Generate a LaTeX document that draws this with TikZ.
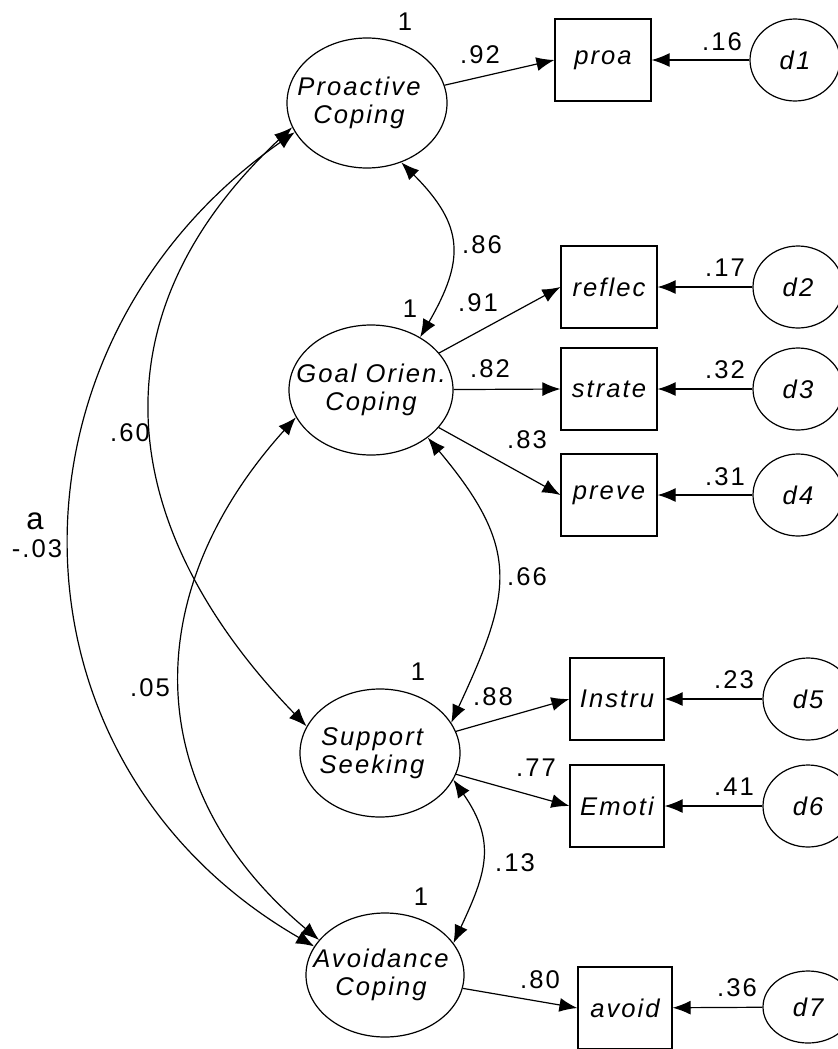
\documentclass[tikz,border=0pt]{standalone}
\usepackage{fontspec}
\setmainfont{Liberation Sans}[LetterSpace=8]
\usetikzlibrary{arrows.meta,shapes.geometric}
\newcommand\diagfont{\fontsize{12.8pt}{14pt}\selectfont}
\tikzset{
        latent/.style = {draw, ellipse, inner sep=0pt},
        indicator/.style = {draw, rectangle, inner sep=0pt,
            minimum height=41pt, font=\diagfont\itshape},
        error/.style = {draw, ellipse, inner sep=0pt,
            minimum width=45pt, minimum height=41pt, font=\diagfont\itshape},
        load/.style = {draw, -{Latex[length=9pt,width=7pt]}},
        cov/.style = {draw, {Latex[length=9pt,width=7pt]}-{Latex[length=9pt,width=7pt]}},
        coef/.style = {inner sep=0pt, font=\diagfont},
        lname/.style = {align=center, font=\diagfont\itshape},
    }

\begin{document}
\begin{tikzpicture}[x=0.5pt, y=0.5pt, line width=0.6pt]
\clip (0,0) rectangle (838,-1049);

\node[latent, minimum width=80pt, minimum height=65pt,
    label={[lname, xshift=-4pt]center:Proactive\\Coping}] (pro) at (367,-103) {};
\node[latent, minimum width=82pt, minimum height=65pt,
    label={[lname]center:Goal Orien.\\Coping}] (goal) at (371,-390) {};
\node[latent, minimum width=80pt, minimum height=64pt,
    label={[lname, xshift=-4pt]center:Support\\Seeking}] (sup) at (380,-753) {};
\node[latent, minimum width=79pt, minimum height=62pt,
    label={[lname, xshift=-2pt]center:Avoidance\\Coping}] (avo) at (385,-975) {};

\node[indicator, minimum width=48pt] (proa) at (603,-60) {proa};
\node[indicator, minimum width=48pt] (reflec) at (609,-287) {reflec};
\node[indicator, minimum width=48pt] (strate) at (609,-389) {strate};
\node[indicator, minimum width=48pt] (preve) at (609,-495) {preve};
\node[indicator, minimum width=47pt] (instru) at (617,-699) {Instru};
\node[indicator, minimum width=47pt] (emoti) at (617,-806) {Emoti};
\node[indicator, minimum width=47pt] (avoid) at (625,-1008) {avoid};

\node[error] (d1) at (795,-60) {d1};
\node[error] (d2) at (798,-287) {d2};
\node[error] (d3) at (798,-389) {d3};
\node[error] (d4) at (798,-495) {d4};
\node[error] (d5) at (808,-699) {d5};
\node[error] (d6) at (808,-806) {d6};
\node[error, minimum height=36pt] (d7) at (808,-1007) {d7};

\draw[load] (pro) -- (proa.west);
\draw[load] (goal) -- (reflec.west);
\draw[load] (goal) -- (strate.west);
\draw[load] (goal) -- (preve.west);
\draw[load] (sup) -- (instru.west);
\draw[load] (sup) -- (emoti.west);
\draw[load] (avo) -- (avoid.west);

\draw[load] (d1) -- (proa);
\draw[load] (d2) -- (reflec);
\draw[load] (d3) -- (strate);
\draw[load] (d4) -- (preve);
\draw[load] (d5) -- (instru);
\draw[load] (d6) -- (emoti);
\draw[load] (d7) -- (avoid);

\draw[cov] (pro.-60) to[out=-45, in=60, looseness=1.3] (goal.47);
\draw[cov] (goal.-40) to[out=-50, in=65, looseness=1.3] (sup.23);
\draw[cov] (sup.-20) to[out=-55, in=65, looseness=1.2] (avo.25);
\draw[cov] (pro.202) to[out=215, in=150, looseness=1.16] (avo.158);
\draw[cov] (pro.198) to[out=223, in=134, looseness=1.18] (sup.160);
\draw[cov] (goal.200) to[out=228, in=140, looseness=1.15] (avo.152);

\node[coef] (vpro) at (405,-22) {1};
\node[coef] (vgoal) at (410,-309) {1};
\node[coef] (vsup) at (418,-672) {1};
\node[coef] (vavo) at (421,-897) {1};

\node[coef] (lproa) at (480,-55) {.92};
\node[coef] (lreflec) at (478,-303) {.91};
\node[coef] (lstrate) at (490,-369) {.82};
\node[coef] (lpreve) at (527,-440) {.83};
\node[coef] (linstru) at (493,-697) {.88};
\node[coef] (lemoti) at (536,-768) {.77};
\node[coef] (lavoid) at (540,-980) {.80};

\node[coef] (eproa) at (722,-42) {.16};
\node[coef] (ereflec) at (725,-268) {.17};
\node[coef] (estrate) at (725,-370) {.32};
\node[coef] (epreve) at (725,-477) {.31};
\node[coef] (einstru) at (734,-680) {.23};
\node[coef] (eemoti) at (734,-787) {.41};
\node[coef] (eavoid) at (737,-988) {.36};

\node[coef] (rpg) at (482,-245) {.86};
\node[coef] (rgs) at (527,-577) {.66};
\node[coef] (rsa) at (515,-863) {.13};
\node[coef] (rps) at (130,-433) {.60};
\node[coef] (rga) at (150,-688) {.05};
\node[coef] (rpa) at (37,-549) {-.03};
\node[coef, font=\fontsize{15.5pt}{17pt}\selectfont] (apa) at (35,-521) {a};

\end{tikzpicture}
\end{document}
